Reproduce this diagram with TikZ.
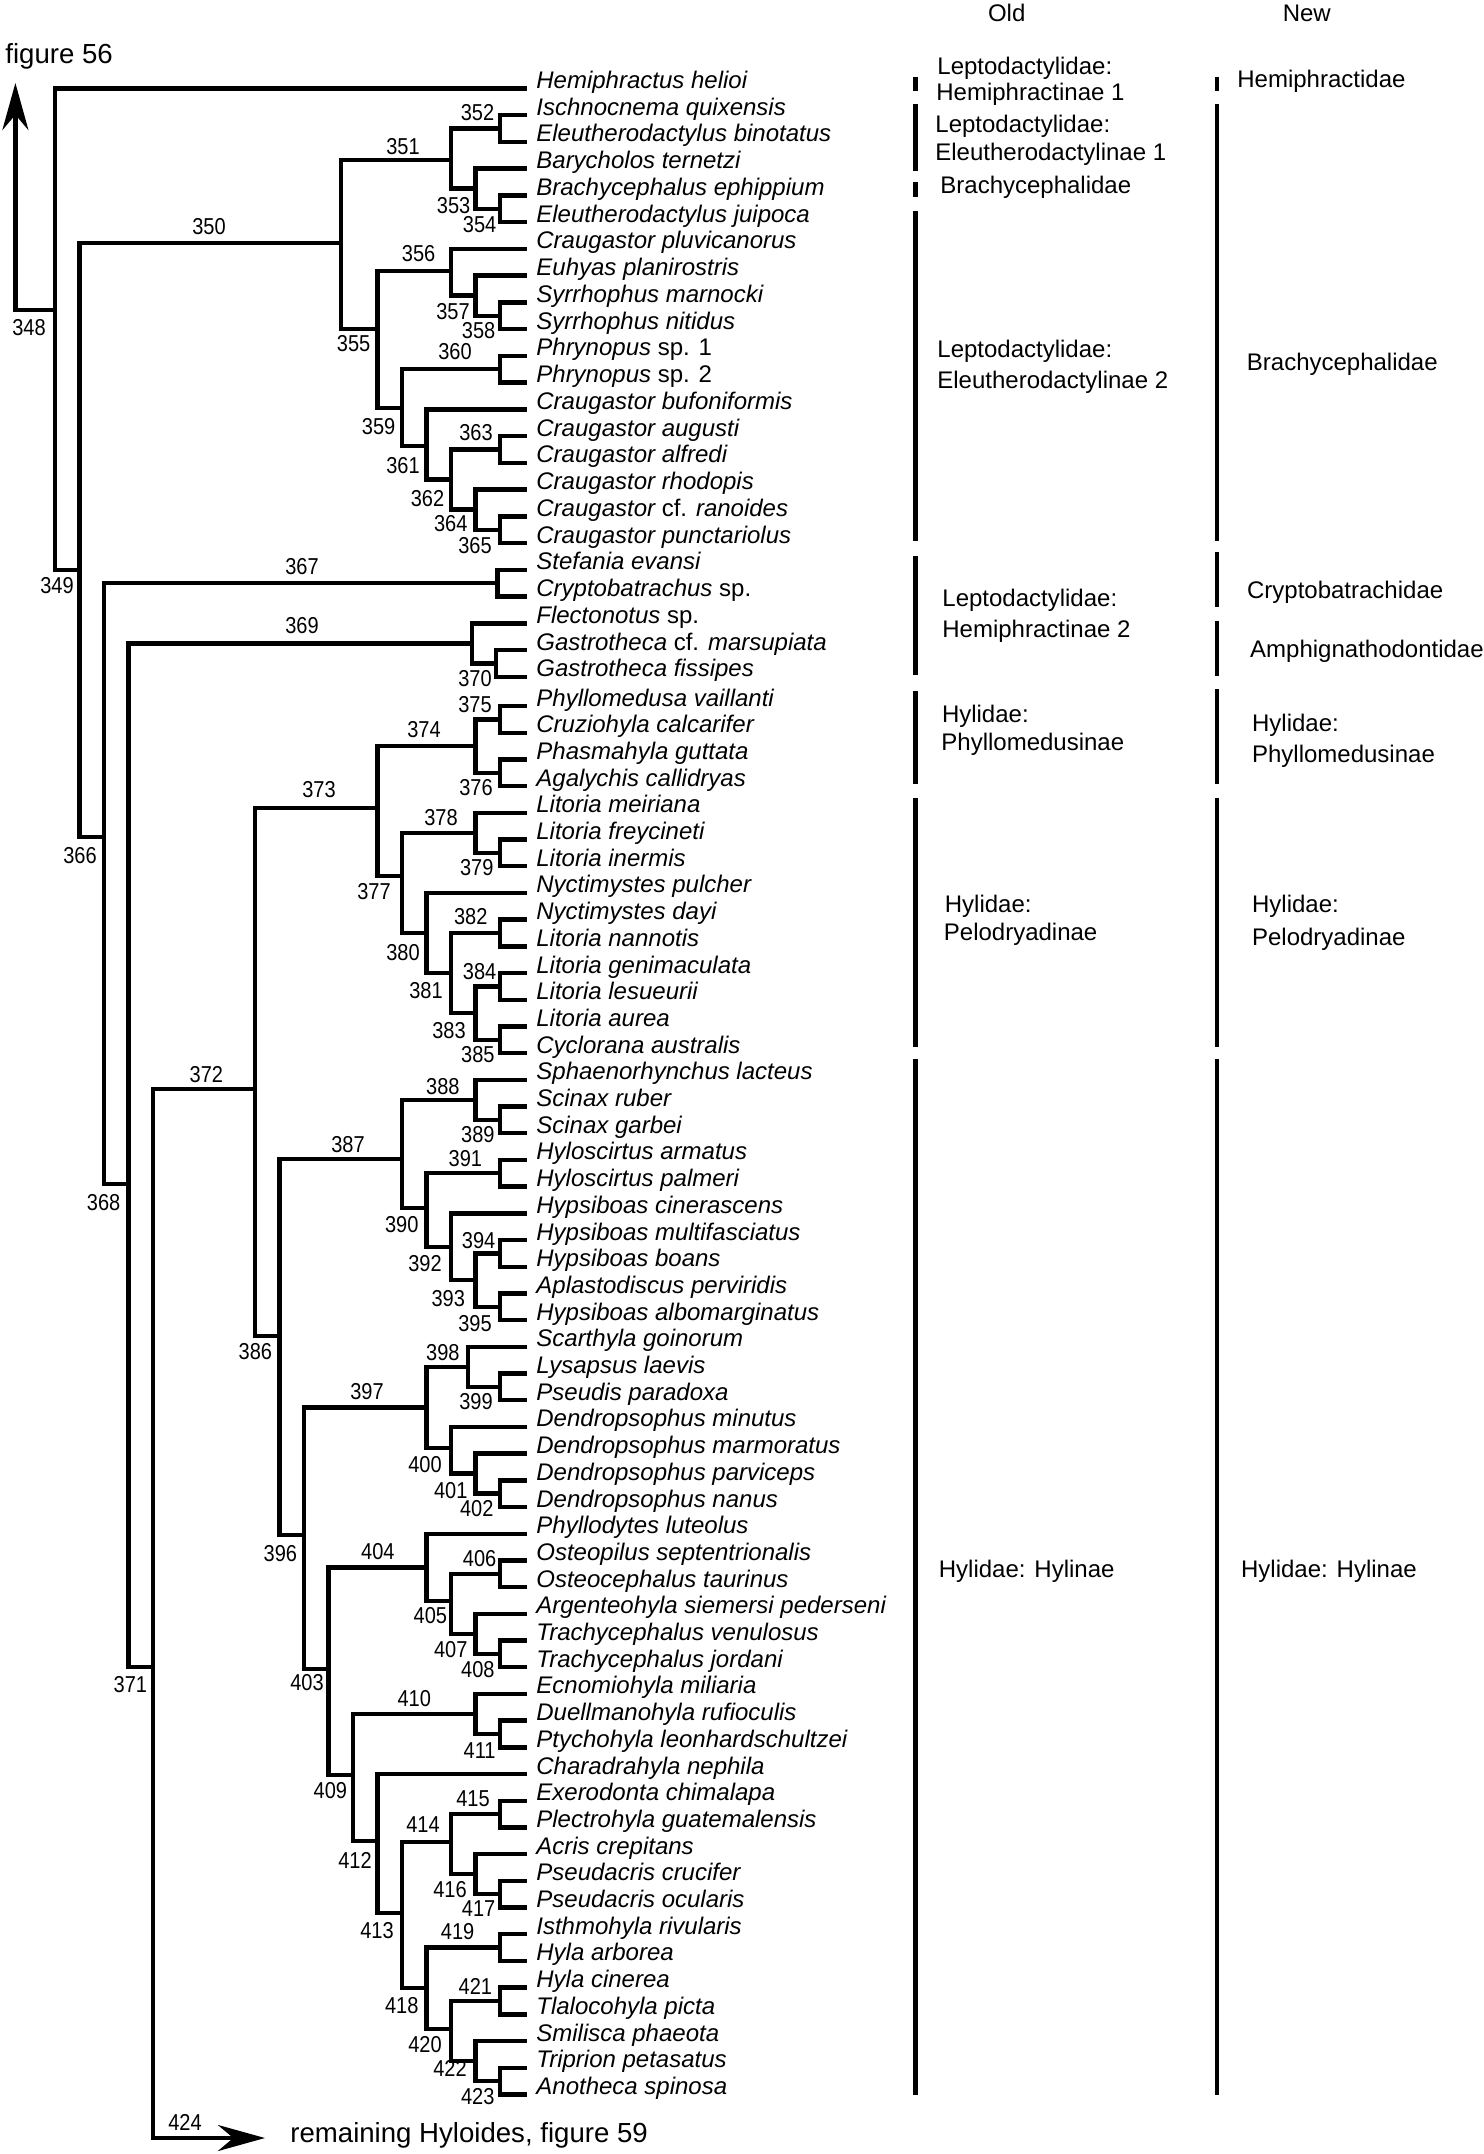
\documentclass[tikz,border=0pt]{standalone}
\usepackage{fontspec}
\setmainfont{Liberation Sans}
\newfontfamily\lblfont{Liberation Sans}[FakeStretch=0.87]
\usetikzlibrary{arrows.meta}
\begin{document}
\begin{tikzpicture}[x=0.5pt,y=-0.5pt,
  tree/.style={line width=2.2pt, line join=miter, line cap=butt},
  bar/.style={line width=2.1pt},
  taxon/.style={anchor=base west, inner sep=0pt, font=\fontsize{12}{14}\selectfont\itshape},
  lbl/.style={anchor=center, inner sep=0pt, font=\lblfont\fontsize{11.5}{13}\selectfont},
  grp/.style={anchor=mid west, inner sep=0pt, font=\fontsize{12}{14}\selectfont},
  hdr/.style={anchor=base, inner sep=0pt, font=\fontsize{12}{14}\selectfont},
  figref/.style={anchor=base west, inner sep=0pt, font=\fontsize{13.8}{16}\selectfont},
  arrowend/.style={-{Stealth[length=23.5pt,width=13pt]}}
]
\useasboundingbox (0,0) rectangle (1484,2154);

% ---------- leaves ----------
\foreach \i/\t in {
 1/Hemiphractus helioi, 2/Ischnocnema quixensis, 3/Eleutherodactylus binotatus,
 4/Barycholos ternetzi, 5/Brachycephalus ephippium, 6/Eleutherodactylus juipoca,
 7/Craugastor pluvicanorus, 8/Euhyas planirostris, 9/Syrrhophus marnocki,
 10/Syrrhophus nitidus, 11/Phrynopus {\upshape sp. 1}, 12/Phrynopus {\upshape sp. 2},
 13/Craugastor bufoniformis, 14/Craugastor augusti, 15/Craugastor alfredi,
 16/Craugastor rhodopis, 17/Craugastor {\upshape cf.} ranoides, 18/Craugastor punctariolus,
 19/Stefania evansi, 20/Cryptobatrachus {\upshape sp.}, 21/Flectonotus {\upshape sp.},
 22/Gastrotheca {\upshape cf.} marsupiata, 23/Gastrotheca fissipes,
 24/Phyllomedusa vaillanti, 25/Cruziohyla calcarifer, 26/Phasmahyla guttata,
 27/Agalychis callidryas, 28/Litoria meiriana, 29/Litoria freycineti,
 30/Litoria inermis, 31/Nyctimystes pulcher, 32/Nyctimystes dayi,
 33/Litoria nannotis, 34/Litoria genimaculata, 35/Litoria lesueurii,
 36/Litoria aurea, 37/Cyclorana australis, 38/Sphaenorhynchus lacteus,
 39/Scinax ruber, 40/Scinax garbei, 41/Hyloscirtus armatus,
 42/Hyloscirtus palmeri, 43/Hypsiboas cinerascens, 44/Hypsiboas multifasciatus,
 45/Hypsiboas boans, 46/Aplastodiscus perviridis, 47/Hypsiboas albomarginatus,
 48/Scarthyla goinorum, 49/Lysapsus laevis, 50/Pseudis paradoxa,
 51/Dendropsophus minutus, 52/Dendropsophus marmoratus, 53/Dendropsophus parviceps,
 54/Dendropsophus nanus, 55/Phyllodytes luteolus, 56/Osteopilus septentrionalis,
 57/Osteocephalus taurinus, 58/Argenteohyla siemersi pederseni, 59/Trachycephalus venulosus,
 60/Trachycephalus jordani, 61/Ecnomiohyla miliaria, 62/Duellmanohyla rufioculis,
 63/Ptychohyla leonhardschultzei, 64/Charadrahyla nephila, 65/Exerodonta chimalapa,
 66/Plectrohyla guatemalensis, 67/Acris crepitans, 68/Pseudacris crucifer,
 69/Pseudacris ocularis, 70/Isthmohyla rivularis, 71/Hyla arborea,
 72/Hyla cinerea, 73/Tlalocohyla picta, 74/Smilisca phaeota,
 75/Triprion petasatus, 76/Anotheca spinosa}{
  \pgfmathsetmacro\ly{\i<24 ? 88.3+26.75*(\i-1) : 706+26.7*(\i-24)}
  \coordinate (L\i) at (527,\ly);
  \node[taxon] (T\i) at (536,\ly) {\t};
}

% ---------- internal nodes ----------
\foreach \n/\x/\y in {
 348/55/310, 349/79.5/570, 350/341/243, 351/451/160, 352/500/128.4, 353/475.5/188.6,
 354/500/208.7, 355/377.5/329, 356/451/271, 357/475.5/295.6, 358/500/315.7,
 359/402/408, 360/500/369.2, 361/426.5/446, 362/451/479.5, 363/500/449.4,
 364/475.5/509.6, 365/500/529.7, 366/104/837, 367/497.5/583.2, 368/128.5/1184,
 369/472/643.4, 370/496/663.4, 371/153/1666.7, 372/255/1089, 373/377.5/808,
 374/475.5/746, 375/500/719.35, 376/500/772.75, 377/402/876, 378/475.5/832.8,
 379/500/852.85, 380/426.5/933, 381/451/973.1, 382/500/932.95, 383/475.5/1013.2,
 384/500/986.35, 385/500/1040, 386/279.5/1336, 387/402/1159, 388/475.5/1099.8,
 389/500/1119.85, 390/426.5/1208, 391/500/1173.25, 392/451/1246.7, 393/475.5/1280,
 394/500/1253.35, 395/500/1306.75, 396/304/1535, 397/426.5/1407.4, 398/468/1366.8,
 399/500/1386.85, 400/451/1448, 401/475.5/1473.6, 402/500/1493.65, 403/328.5/1669,
 404/426.5/1567.35, 405/451/1601, 406/500/1573.75, 407/475.5/1633.8, 408/500/1653.85,
 409/353/1775, 410/475.5/1713.9, 411/500/1733.95, 412/377.5/1841, 413/402/1913,
 414/451/1842, 415/500/1814, 416/475.5/1874.1, 417/500/1894.15, 418/426.5/1988,
 419/500/1947.55, 420/451/2029, 421/500/2000.95, 422/475.5/2061, 423/500/2081}{
  \coordinate (n\n) at (\x,\y);
}
\coordinate (n424) at (265,2138);
\coordinate (up) at (15.4,83);

% ---------- branches ----------
\foreach \p/\c in {
 n348/L1, n348/n349, n349/n350, n349/n366, n350/n351, n350/n355,
 n351/n352, n351/n353, n352/L2, n352/L3, n353/L4, n353/n354, n354/L5, n354/L6,
 n355/n356, n355/n359, n356/L7, n356/n357, n357/L8, n357/n358, n358/L9, n358/L10,
 n359/n360, n359/n361, n360/L11, n360/L12, n361/L13, n361/n362, n362/n363, n362/n364,
 n363/L14, n363/L15, n364/L16, n364/n365, n365/L17, n365/L18,
 n366/n367, n366/n368, n367/L19, n367/L20, n368/n369, n368/n371,
 n369/L21, n369/n370, n370/L22, n370/L23, n371/n372,
 n372/n373, n372/n386, n373/n374, n373/n377, n374/n375, n374/n376,
 n375/L24, n375/L25, n376/L26, n376/L27, n377/n378, n377/n380,
 n378/L28, n378/n379, n379/L29, n379/L30, n380/L31, n380/n381,
 n381/n382, n381/n383, n382/L32, n382/L33, n383/n384, n383/n385,
 n384/L34, n384/L35, n385/L36, n385/L37,
 n386/n387, n386/n396, n387/n388, n387/n390, n388/L38, n388/n389, n389/L39, n389/L40,
 n390/n391, n390/n392, n391/L41, n391/L42, n392/L43, n392/n393, n393/n394, n393/n395,
 n394/L44, n394/L45, n395/L46, n395/L47,
 n396/n397, n396/n403, n397/n398, n397/n400, n398/L48, n398/n399, n399/L49, n399/L50,
 n400/L51, n400/n401, n401/L52, n401/n402, n402/L53, n402/L54,
 n403/n404, n403/n409, n404/L55, n404/n405, n405/n406, n405/n407, n406/L56, n406/L57,
 n407/L58, n407/n408, n408/L59, n408/L60,
 n409/n410, n409/n412, n410/L61, n410/n411, n411/L62, n411/L63,
 n412/L64, n412/n413, n413/n414, n413/n418, n414/n415, n414/n416,
 n415/L65, n415/L66, n416/L67, n416/n417, n417/L68, n417/L69,
 n418/n419, n418/n420, n419/L70, n419/L71, n420/n421, n420/n422,
 n421/L72, n421/L73, n422/L74, n422/n423, n423/L75, n423/L76}{
  \draw[tree] (\p) |- (\c);
}
\draw[tree,arrowend] (n348) -| (up);
\draw[tree,arrowend] (n371) |- (n424);

% ---------- node numbers ----------
\foreach \n/\x/\y in {
 348/29/328, 349/57/586, 350/209/227, 351/403/147, 352/477.5/113, 353/453.6/206,
 354/479.6/225, 355/353.6/344, 356/418.6/254, 357/453/311.7, 358/478.6/331,
 359/378.6/426.7, 360/455/352, 361/403/465.7, 362/427.5/499, 363/476/433,
 364/450.7/524, 365/475/545.7, 366/80/855.7, 367/302/567, 368/103.6/1202.3,
 369/302/626, 370/475/679, 371/130.4/1685, 372/206.4/1075, 373/319/790,
 374/424/730, 375/475/705, 376/476/788, 377/374/891.7, 378/441/818,
 379/476.8/868, 380/403/952.7, 381/426/990.7, 382/470.7/916.7, 383/449/1030.7,
 384/479.6/971.7, 385/477.9/1055, 386/255.4/1351.7, 387/348/1145, 388/442.9/1086.7,
 389/477.9/1135, 390/401.8/1224.3, 391/465.4/1158.3, 392/425/1264, 393/448.2/1298.3,
 394/478.6/1240.7, 395/475/1324, 396/280.4/1553.3, 397/367/1391.7, 398/442.9/1352.3,
 399/476/1401.7, 400/425/1465, 401/450.7/1491, 402/476.8/1508.3, 403/307/1682.3,
 404/377.9/1551.7, 405/430.4/1616, 406/479.6/1559, 407/450.7/1650, 408/477.9/1669.3,
 409/330.4/1790.7, 410/414.3/1699, 411/479.6/1750.7, 412/355/1860.7, 413/377/1930.7,
 414/423/1825, 415/473/1798.3, 416/450/1890, 417/478.6/1908.3, 418/401.8/2005.7,
 419/457.6/1931.7, 420/425/2045, 421/475.4/1986.7, 422/450/2068.3, 423/477.7/2096.7,
 424/185/2122.7}{
  \node[lbl] (l\n) at (\x,\y) {\n};
}

% ---------- figure references ----------
\node[figref] (fig56) at (5,63) {figure 56};
\node[figref] (fig59) at (290,2142) {remaining Hyloides, figure 59};

% ---------- classification columns ----------
\node[hdr] (hold) at (1006.7,21) {Old};
\node[hdr] (hnew) at (1306.8,21) {New};

\foreach \a/\b in {77/91, 104/171, 182/197, 211/541, 556/675, 691/784, 798/1047, 1059/2095}{
  \draw[bar] (915.5,\a) -- (915.5,\b);
}
\foreach \a/\b in {77/91, 104/541, 552/607, 621/676, 689/784, 798/1047, 1059/2095}{
  \draw[bar] (1217,\a) -- (1217,\b);
}

\node[grp] (o1a) at (937,69) {Leptodactylidae:};
\node[grp] (o1b) at (936,95) {Hemiphractinae 1};
\node[grp] (o2a) at (935,127) {Leptodactylidae:};
\node[grp] (o2b) at (935,155) {Eleutherodactylinae 1};
\node[grp] (o3) at (940,188) {Brachycephalidae};
\node[grp] (o4a) at (937,352) {Leptodactylidae:};
\node[grp] (o4b) at (937,383) {Eleutherodactylinae 2};
\node[grp] (o5a) at (942,601) {Leptodactylidae:};
\node[grp] (o5b) at (942,632.5) {Hemiphractinae 2};
\node[grp] (o6a) at (941.6,717) {Hylidae:};
\node[grp] (o6b) at (941,745) {Phyllomedusinae};
\node[grp] (o7a) at (944.5,907) {Hylidae:};
\node[grp] (o7b) at (943.5,935) {Pelodryadinae};
\node[grp] (o8) at (938.5,1572) {Hylidae: Hylinae};

\node[grp] (w1) at (1237,82) {Hemiphractidae};
\node[grp] (w2) at (1246.5,365) {Brachycephalidae};
\node[grp] (w3) at (1246.7,593) {Cryptobatrachidae};
\node[grp] (w4) at (1249.8,652) {Amphignathodontidae};
\node[grp] (w5a) at (1251.7,726.5) {Hylidae:};
\node[grp] (w5b) at (1251.7,757.5) {Phyllomedusinae};
\node[grp] (w6a) at (1251.7,907.5) {Hylidae:};
\node[grp] (w6b) at (1251.7,940.5) {Pelodryadinae};
\node[grp] (w7) at (1240.7,1572) {Hylidae: Hylinae};
\end{tikzpicture}
\end{document}
